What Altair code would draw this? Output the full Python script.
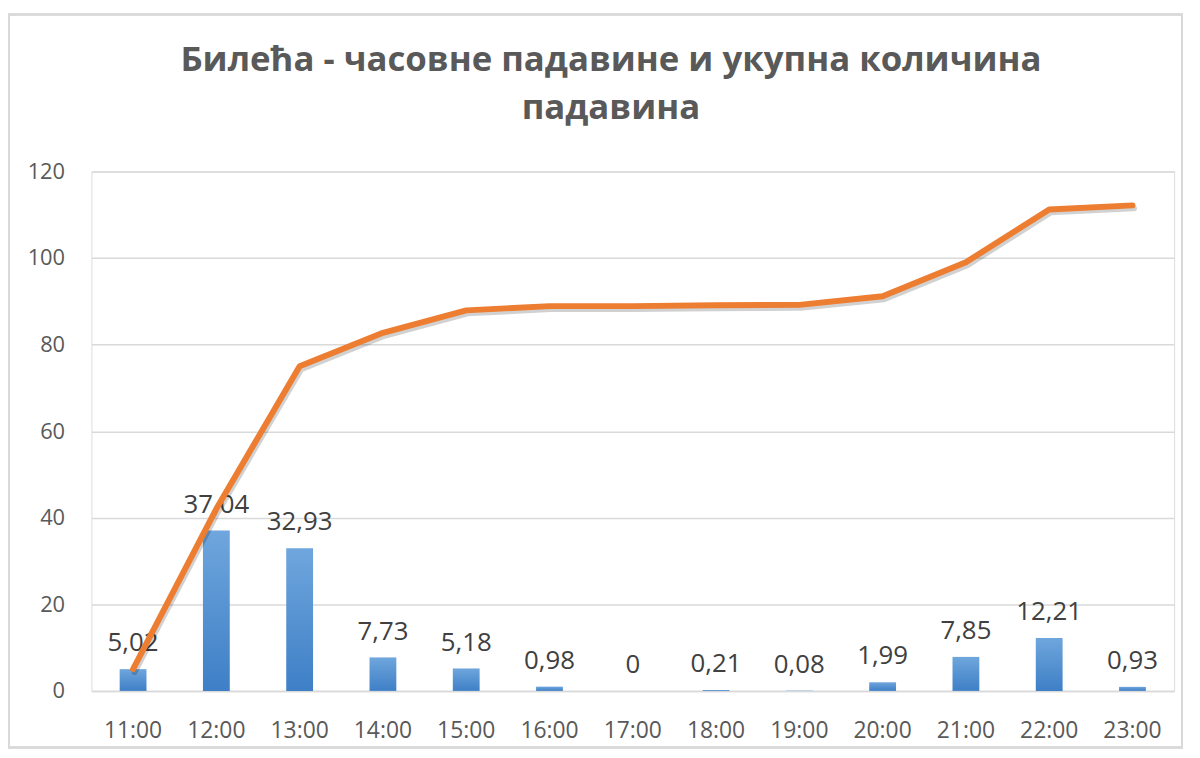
import altair as alt
import pandas as pd

hours = ["11:00", "12:00", "13:00", "14:00", "15:00", "16:00", "17:00",
         "18:00", "19:00", "20:00", "21:00", "22:00", "23:00"]
hourly = [5.02, 37.04, 32.93, 7.73, 5.18, 0.98, 0, 0.21, 0.08, 1.99, 7.85, 12.21, 0.93]
cumulative = [5.02, 42.06, 74.99, 82.72, 87.90, 88.88, 88.88, 89.09, 89.17, 91.16, 99.01, 111.22, 112.15]

df = pd.DataFrame({"hour": hours, "hourly": hourly, "cum": cumulative})

W, H = 1090, 523
FONT = "Open Sans"

x = alt.X("hour:N", sort=hours, title=None,
          scale=alt.Scale(paddingInner=0, paddingOuter=0),
          axis=alt.Axis(labelAngle=0, labelFontSize=23, labelColor="#595959",
                        labelFont=FONT, labelPadding=29, ticks=False,
                        domainColor="#d9d9d9", domainWidth=1.5))
y = alt.Y("hourly:Q", title=None,
          scale=alt.Scale(domain=[0, 120], nice=False),
          axis=alt.Axis(values=[0, 20, 40, 60, 80, 100, 120], labelFontSize=22,
                        labelColor="#595959", labelFont=FONT, labelPadding=27,
                        ticks=False, domain=False, gridColor="#d9d9d9",
                        gridWidth=1.5))

base = alt.Chart(df)

bars = base.mark_bar(
    size=27,
    color=alt.Gradient(
        gradient="linear",
        stops=[alt.GradientStop(color="#6fa6dd", offset=0),
               alt.GradientStop(color="#3e7fc6", offset=1)],
        x1=0, x2=0, y1=0, y2=1),
).encode(x=x, y=y)

labels = base.transform_calculate(
    lbl="datum.hourly == 0 ? '0' : replace(format(datum.hourly, '.2f'), '.', ',')"
).mark_text(dy=-26, fontSize=26, color="#404040", font=FONT).encode(
    x=alt.X("hour:N", sort=hours),
    y=alt.Y("hourly:Q"),
    text="lbl:N",
)

shadow = base.mark_line(color="#000000", opacity=0.18, strokeWidth=6,
                        interpolate="linear", strokeCap="round", strokeJoin="round",
                        xOffset=1.5, yOffset=3).encode(
    x=alt.X("hour:N", sort=hours), y=alt.Y("cum:Q"))

line = base.mark_line(color="#ED7D31", strokeWidth=6, interpolate="linear",
                      strokeCap="round", strokeJoin="round").encode(
    x=alt.X("hour:N", sort=hours), y=alt.Y("cum:Q"))

border = base.mark_rect(fill=None, stroke="#d9d9d9", strokeWidth=1.5,
                        clip=False).encode(
    x=alt.value(-83), x2=alt.value(W + 8), y=alt.value(-158), y2=alt.value(H + 57))

chart = alt.layer(border, bars, labels, shadow, line).properties(
    width=W, height=H,
    title=alt.TitleParams(
        text=["Билећа - часовне падавине и укупна количина", "падавина"],
        font=FONT, fontSize=35, fontWeight="bold", color="#595959",
        anchor="middle", dx=-22, offset=-113, lineHeight=48),
    autosize=alt.AutoSizeParams(type="none"),
    padding={"left": 84, "top": 162, "right": 18, "bottom": 56},
).configure_view(stroke=None).configure(background="white")

chart.save("out.html", embed_options={"renderer": "svg", "actions": False})
